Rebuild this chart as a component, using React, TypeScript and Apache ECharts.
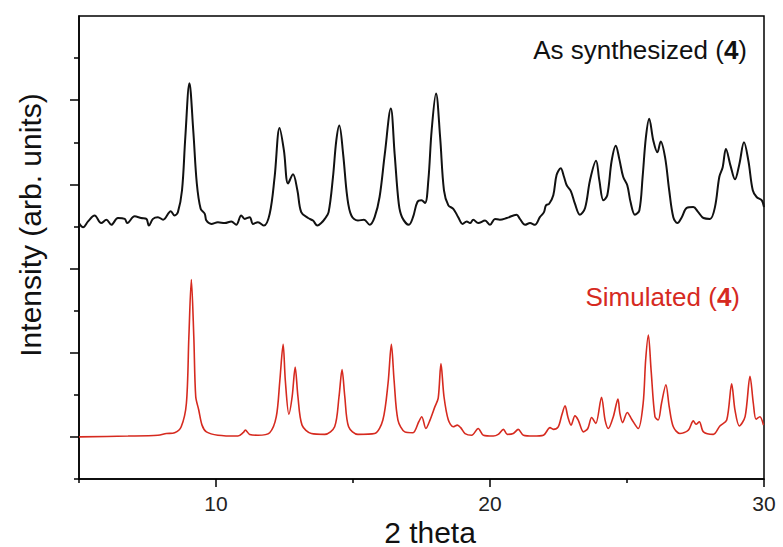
import React, { useEffect, useRef } from "react";
import * as echarts from "echarts";

const expTheta = [
  5.0, 5.15, 5.33, 5.57, 5.81, 6.0, 6.18, 6.42, 6.67, 6.76, 7.03, 7.27, 7.46, 7.55, 7.7, 7.88, 8.07, 8.35, 8.49, 8.61,
  8.76, 8.88, 9.03, 9.17, 9.3, 9.44, 9.59, 9.65, 9.83, 10.07, 10.32, 10.56, 10.74, 10.92, 11.05, 11.23, 11.35, 11.53,
  11.75, 11.96, 12.14, 12.32, 12.48, 12.63, 12.81, 12.97, 13.11, 13.36, 13.54, 13.7, 13.84, 13.97, 14.11, 14.27, 14.39,
  14.5, 14.64, 14.79, 14.94, 15.18, 15.4, 15.61, 15.79, 15.97, 16.16, 16.38, 16.52, 16.67, 16.79, 17.04, 17.19, 17.35,
  17.5, 17.63, 17.75, 17.87, 18.03, 18.18, 18.32, 18.48, 18.66, 18.84, 19.0, 19.15, 19.27, 19.39, 19.57, 19.82, 20.0,
  20.18, 20.36, 20.61, 20.97, 21.09, 21.28, 21.46, 21.64, 21.82, 21.97, 22.04, 22.16, 22.31, 22.43, 22.58, 22.7, 22.8,
  22.95, 23.1, 23.28, 23.47, 23.65, 23.87, 23.99, 24.14, 24.28, 24.44, 24.59, 24.72, 24.86, 25.01, 25.13, 25.29, 25.45,
  25.57, 25.69, 25.81, 25.96, 26.11, 26.23, 26.39, 26.54, 26.69, 26.84, 27.0, 27.18, 27.42, 27.6, 27.79, 28.03, 28.21,
  28.37, 28.49, 28.61, 28.78, 28.94, 29.1, 29.27, 29.43, 29.59, 29.73, 29.92, 30.0,
];
const expIntensity = [
  3.04, 2.99, 3.06, 3.13, 3.04, 3.08, 3.02, 3.1, 3.09, 3.04, 3.12, 3.1, 3.09, 3.01, 3.09, 3.11, 3.08, 3.18, 3.13, 3.17,
  3.43, 4.06, 4.7, 4.14, 3.51, 3.21, 3.15, 3.07, 3.03, 3.05, 3.04, 3.06, 3.02, 3.13, 3.09, 3.11, 3.03, 3.05,
  3.01, 3.15, 3.59, 4.17, 3.9, 3.51, 3.62, 3.43, 3.17, 3.1, 3.07, 3.01, 3.04, 3.09, 3.17, 3.59, 4.02,
  4.2, 3.86, 3.35, 3.13, 3.07, 3.08, 3.02, 3.11, 3.35, 3.86, 4.4, 3.86, 3.27, 3.11, 3.02, 3.11, 3.29,
  3.31, 3.28, 3.55, 4.14, 4.58, 4.06, 3.43, 3.25, 3.21, 3.11, 3.03, 3.06, 3.04, 3.08, 3.04, 3.07, 3.02,
  3.09, 3.08, 3.1, 3.14, 3.09, 3.02, 3.04, 3.02, 3.11, 3.17, 3.25, 3.27, 3.37, 3.61, 3.69, 3.59, 3.49,
  3.42, 3.27, 3.14, 3.22, 3.55, 3.78, 3.55, 3.31, 3.37, 3.78, 3.96, 3.8, 3.59, 3.49, 3.29, 3.14, 3.19,
  3.59, 4.06, 4.28, 4.02, 3.88, 4.01, 3.82, 3.43, 3.11, 3.04, 3.11, 3.22, 3.23, 3.17, 3.1, 3.09, 3.23,
  3.59, 3.7, 3.92, 3.72, 3.56, 3.74, 4.0, 3.78, 3.43, 3.35, 3.31, 3.23,
];

// Simulated pattern
const simTheta = [
  5.0, 6.79, 7.88, 8.19, 8.49, 8.73, 8.92, 9.01, 9.1, 9.19, 9.26, 9.37, 9.49, 9.65, 10.07, 10.8, 10.99, 11.07, 11.23,
  11.53, 11.96, 12.2, 12.33, 12.45, 12.53, 12.66, 12.78, 12.89, 12.99, 13.14, 13.48, 13.97, 14.33, 14.49, 14.6, 14.7,
  14.84, 15.18, 15.79, 16.09, 16.28, 16.4, 16.5, 16.64, 16.89, 17.19, 17.4, 17.51, 17.66, 17.81, 17.99, 18.11, 18.21,
  18.32, 18.48, 18.66, 18.81, 18.93, 19.09, 19.33, 19.57, 19.76, 20.12, 20.3, 20.49, 20.63, 20.85, 21.03, 21.22, 21.58,
  21.95, 22.19, 22.31, 22.49, 22.62, 22.74, 22.84, 22.96, 23.1, 23.22, 23.41, 23.57, 23.71, 23.86, 24.07, 24.2, 24.32,
  24.5, 24.67, 24.74, 24.84, 25.01, 25.17, 25.41, 25.59, 25.68, 25.78, 25.88, 26.02, 26.14, 26.26, 26.42, 26.54, 26.69,
  26.93, 27.24, 27.42, 27.52, 27.64, 27.79, 28.15, 28.39, 28.64, 28.82, 28.94, 29.1, 29.31, 29.49, 29.61, 29.71, 29.85,
  29.98,
];
const simIntensity = [
  0.5, 0.51, 0.52, 0.54, 0.55, 0.62, 0.9, 1.69, 2.37, 1.69, 0.98, 0.82, 0.64, 0.56, 0.52, 0.51, 0.55, 0.58, 0.53,
  0.52, 0.55, 0.74, 1.17, 1.6, 1.17, 0.77, 0.98, 1.33, 0.98, 0.64, 0.54, 0.53, 0.62, 0.98, 1.3, 0.98,
  0.62, 0.53, 0.54, 0.7, 1.14, 1.6, 1.17, 0.7, 0.56, 0.55, 0.68, 0.74, 0.6, 0.7, 0.86, 0.96, 1.37,
  0.98, 0.7, 0.62, 0.64, 0.61, 0.54, 0.52, 0.6, 0.52, 0.51, 0.53, 0.59, 0.53, 0.54, 0.59, 0.52, 0.51,
  0.52, 0.61, 0.59, 0.62, 0.76, 0.87, 0.74, 0.64, 0.75, 0.7, 0.56, 0.6, 0.73, 0.66, 0.97, 0.7, 0.6,
  0.74, 0.95, 0.78, 0.67, 0.79, 0.71, 0.6, 0.9, 1.41, 1.71, 1.29, 0.74, 0.7, 0.9, 1.12, 0.86, 0.62,
  0.54, 0.58, 0.69, 0.65, 0.68, 0.56, 0.53, 0.63, 0.7, 1.13, 0.82, 0.63, 0.74, 1.22, 0.9, 0.71, 0.74,
  0.64,
];

const xLabelValues = [10, 20, 30];
const xMinorTicks = [5, 15, 25];
const yShortTicks = [0, 1, 2, 3, 4, 5];
const yLongTicks = [0.5, 1.5, 2.5, 3.5, 4.5];

const FONT = '"Liberation Sans", Arial, sans-serif';
const RED = "#d62a1f";

export default function App() {
  const ref = useRef<HTMLDivElement>(null);
  useEffect(() => {
    document.body.style.margin = "0";
    const chart = echarts.init(ref.current!, null, { renderer: "svg" });
    const axisLine = { show: true, lineStyle: { color: "#000", width: 1.5 } };
    chart.setOption({
      animation: false,
      backgroundColor: "#fff",
      grid: { left: 79, top: 16, width: 685, height: 463, show: true, borderColor: "#000", borderWidth: 1.5 },
      xAxis: [
        {
          type: "value", min: 5, max: 30, position: "bottom",
          axisLine,
          axisTick: { show: true, customValues: xLabelValues, length: 8, lineStyle: { color: "#000", width: 1.5 } },
          axisLabel: { show: true, customValues: xLabelValues, fontSize: 21, color: "#222", fontFamily: FONT, margin: 14 },
          splitLine: { show: false },
        },
        {
          type: "value", min: 5, max: 30, position: "bottom",
          axisLine: { show: false },
          axisTick: { show: true, customValues: xMinorTicks, length: 4, lineStyle: { color: "#000", width: 1.5 } },
          axisLabel: { show: false },
          splitLine: { show: false },
        },
      ],
      yAxis: [
        {
          type: "value", min: 0, max: 5.5, position: "left",
          axisLine,
          axisTick: { show: true, customValues: yShortTicks, length: 5, lineStyle: { color: "#000", width: 1.5 } },
          axisLabel: { show: false },
          splitLine: { show: false },
        },
        {
          type: "value", min: 0, max: 5.5, position: "left",
          axisLine: { show: false },
          axisTick: { show: true, customValues: yLongTicks, length: 9, lineStyle: { color: "#000", width: 1.5 } },
          axisLabel: { show: false },
          splitLine: { show: false },
        },
      ],
      series: [
        {
          type: "line", xAxisIndex: 0, yAxisIndex: 0, showSymbol: false, smooth: 0.35,
          data: expTheta.map((t, i) => [t, expIntensity[i]]),
          lineStyle: { color: "#111", width: 2 }, itemStyle: { color: "#111" },
        },
        {
          type: "line", xAxisIndex: 0, yAxisIndex: 0, showSymbol: false, smooth: 0.3,
          data: simTheta.map((t, i) => [t, simIntensity[i]]),
          lineStyle: { color: RED, width: 1.6 }, itemStyle: { color: RED },
        },
      ],
      graphic: [
        {
          type: "text", x: 30, y: 225, rotation: Math.PI / 2,
          style: { text: "Intensity (arb. units)", font: `30px ${FONT}`, fill: "#111", textAlign: "center", textVerticalAlign: "middle" },
        },
        {
          type: "text", x: 430, y: 532,
          style: { text: "2 theta", font: `30px ${FONT}`, fill: "#111", textAlign: "center", textVerticalAlign: "middle" },
        },
        {
          type: "text", x: 747, y: 50,
          style: {
            text: "{a|As synthesized (}{b|4}{a|)}", textAlign: "right", textVerticalAlign: "middle",
            fontSize: 26, fontFamily: FONT, fill: "#111",
            rich: {
              a: { fontSize: 26, fontFamily: FONT, fill: "#111" },
              b: { fontSize: 26, fontFamily: FONT, fill: "#111", fontWeight: "bold" },
            },
          },
        },
        {
          type: "text", x: 740, y: 297,
          style: {
            text: "{a|Simulated (}{b|4}{a|)}", textAlign: "right", textVerticalAlign: "middle",
            fontSize: 26, fontFamily: FONT, fill: RED,
            rich: {
              a: { fontSize: 26, fontFamily: FONT, fill: RED },
              b: { fontSize: 26, fontFamily: FONT, fill: RED, fontWeight: "bold" },
            },
          },
        },
      ],
    });
    return () => chart.dispose();
  }, []);
  return <div ref={ref} style={{ width: 783, height: 547 }} />;
}
